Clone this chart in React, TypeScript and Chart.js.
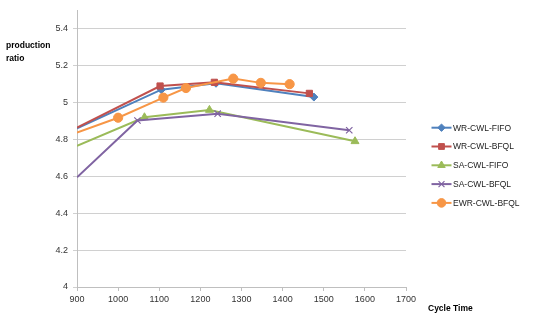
import React, { useEffect, useRef } from 'react';
import { Chart, registerables } from 'chart.js';
import { drawPoint } from 'chart.js/helpers';

Chart.register(...registerables);

const seriesNames = ['WR-CWL-FIFO', 'WR-CWL-BFQL', 'SA-CWL-FIFO', 'SA-CWL-BFQL', 'EWR-CWL-BFQL'];

const wrFifoX = [900, 1105, 1238, 1476];
const wrFifoY = [4.86, 5.07, 5.105, 5.03];

const wrBfqlX = [900, 1102, 1234, 1465];
const wrBfqlY = [4.865, 5.09, 5.11, 5.05];

const saFifoX = [900, 1064, 1222, 1576];
const saFifoY = [4.765, 4.92, 4.96, 4.79];

const saBfqlX = [900, 1047, 1242, 1562];
const saBfqlY = [4.595, 4.903, 4.94, 4.85];

const ewrBfqlX = [900, 1000, 1110, 1165, 1280, 1347, 1417];
const ewrBfqlY = [4.838, 4.918, 5.027, 5.079, 5.13, 5.107, 5.1];

const xTickMin = 900;
const xTickMax = 1700;
const xStep = 100;
const yTickMin = 4;
const yTickTop = 5.4;
const yAxisMax = 5.5;
const yStep = 0.2;

const xTitle = 'Cycle Time';
const yTitleLines = ['production', 'ratio'];

const colors = ['#4F81BD', '#C0504D', '#9BBB59', '#8064A2', '#F79646'];
const pointStyles = ['rectRot', 'rect', 'triangle', 'crossRot', 'circle'];
const pointRadii = [4, 4.4, 4.6, 4.5, 4.6];

const xs = [wrFifoX, wrBfqlX, saFifoX, saBfqlX, ewrBfqlX];
const ys = [wrFifoY, wrBfqlY, saFifoY, saBfqlY, ewrBfqlY];

const FONT = '"Liberation Sans", Arial, sans-serif';

const overlayPlugin = {
  id: 'overlay',
  afterDraw(chart: any) {
    const ctx = chart.ctx;
    ctx.save();
    ctx.fillStyle = '#000';
    ctx.font = `bold 8.5px ${FONT}`;
    ctx.textAlign = 'left';
    ctx.textBaseline = 'middle';
    ctx.fillText(yTitleLines[0], 6, 46);
    ctx.fillText(yTitleLines[1], 6, 58.5);
    ctx.fillText(xTitle, 428, 309);

    const x0 = 431.5;
    const x1 = 451.5;
    const top = 127.7;
    const gap = 18.8;
    ctx.font = `8.5px ${FONT}`;
    seriesNames.forEach((name, i) => {
      const y = top + i * gap;
      ctx.strokeStyle = colors[i];
      ctx.lineWidth = 2;
      ctx.beginPath();
      ctx.moveTo(x0, y);
      ctx.lineTo(x1, y);
      ctx.stroke();
      ctx.fillStyle = colors[i];
      ctx.lineWidth = pointStyles[i] === 'crossRot' ? 1.2 : 1;
      drawPoint(ctx, { pointStyle: pointStyles[i], radius: pointRadii[i] - 0.3, rotation: 0, borderWidth: 1 }, (x0 + x1) / 2, y);
      ctx.fillStyle = '#222';
      ctx.textAlign = 'left';
      ctx.textBaseline = 'middle';
      ctx.fillText(name, x1 + 1.5, y + 0.5);
    });
    ctx.restore();
  },
};

export default function App() {
  const ref = useRef<HTMLCanvasElement>(null);

  useEffect(() => {
    document.body.style.margin = '0';
    const datasets = seriesNames.map((name, i) => ({
      label: name,
      data: xs[i].map((x, j) => ({ x, y: ys[i][j] })),
      borderColor: colors[i],
      backgroundColor: colors[i],
      borderWidth: 2,
      pointStyle: pointStyles[i],
      pointRadius: (c: any) => (c.raw && c.raw.x <= xTickMin ? 0 : pointRadii[i]),
      pointBorderColor: colors[i],
      pointBackgroundColor: colors[i],
      pointBorderWidth: pointStyles[i] === 'crossRot' ? 1.2 : 1,
      showLine: true,
      tension: 0,
      order: seriesNames.length - i,
    }));

    const chart = new Chart(ref.current as HTMLCanvasElement, {
      type: 'scatter',
      data: { datasets },
      plugins: [overlayPlugin],
      options: {
        animation: false,
        responsive: false,
        layout: { padding: { top: 8, right: 144, left: 0, bottom: 0 } },
        plugins: { legend: { display: false }, tooltip: { enabled: false } },
        scales: {
          x: {
            type: 'linear',
            min: xTickMin,
            max: xTickMax,
            ticks: {
              stepSize: xStep,
              color: '#333',
              font: { family: FONT, size: 9 },
              padding: 3,
              maxRotation: 0,
              callback: (v: any) => String(v),
            },
            grid: { display: true, drawOnChartArea: false, drawTicks: true, tickLength: 4, color: '#bfbfbf' },
            border: { display: true, color: '#bfbfbf', width: 1 },
            afterFit: (s: any) => {
              s.height = 34;
            },
          },
          y: {
            type: 'linear',
            min: yTickMin,
            max: yAxisMax,
            afterBuildTicks: (s: any) => {
              s.ticks = s.ticks.filter((t: any) => t.value <= yTickTop + 1e-6);
            },
            ticks: {
              stepSize: yStep,
              color: '#333',
              font: { family: FONT, size: 9 },
              padding: 5,
              callback: (v: any) => String(Number(Number(v).toFixed(1))),
            },
            grid: { color: '#d0d0d0', lineWidth: 1, tickLength: 4, drawTicks: true },
            border: { display: true, color: '#bfbfbf', width: 1 },
            afterFit: (s: any) => {
              s.width = 77;
            },
          },
        },
      },
    });
    return () => chart.destroy();
  }, []);

  return (
    <div style={{ width: 550, height: 321, position: 'relative', background: '#fff' }}>
      <canvas ref={ref} width={550} height={321} />
    </div>
  );
}
